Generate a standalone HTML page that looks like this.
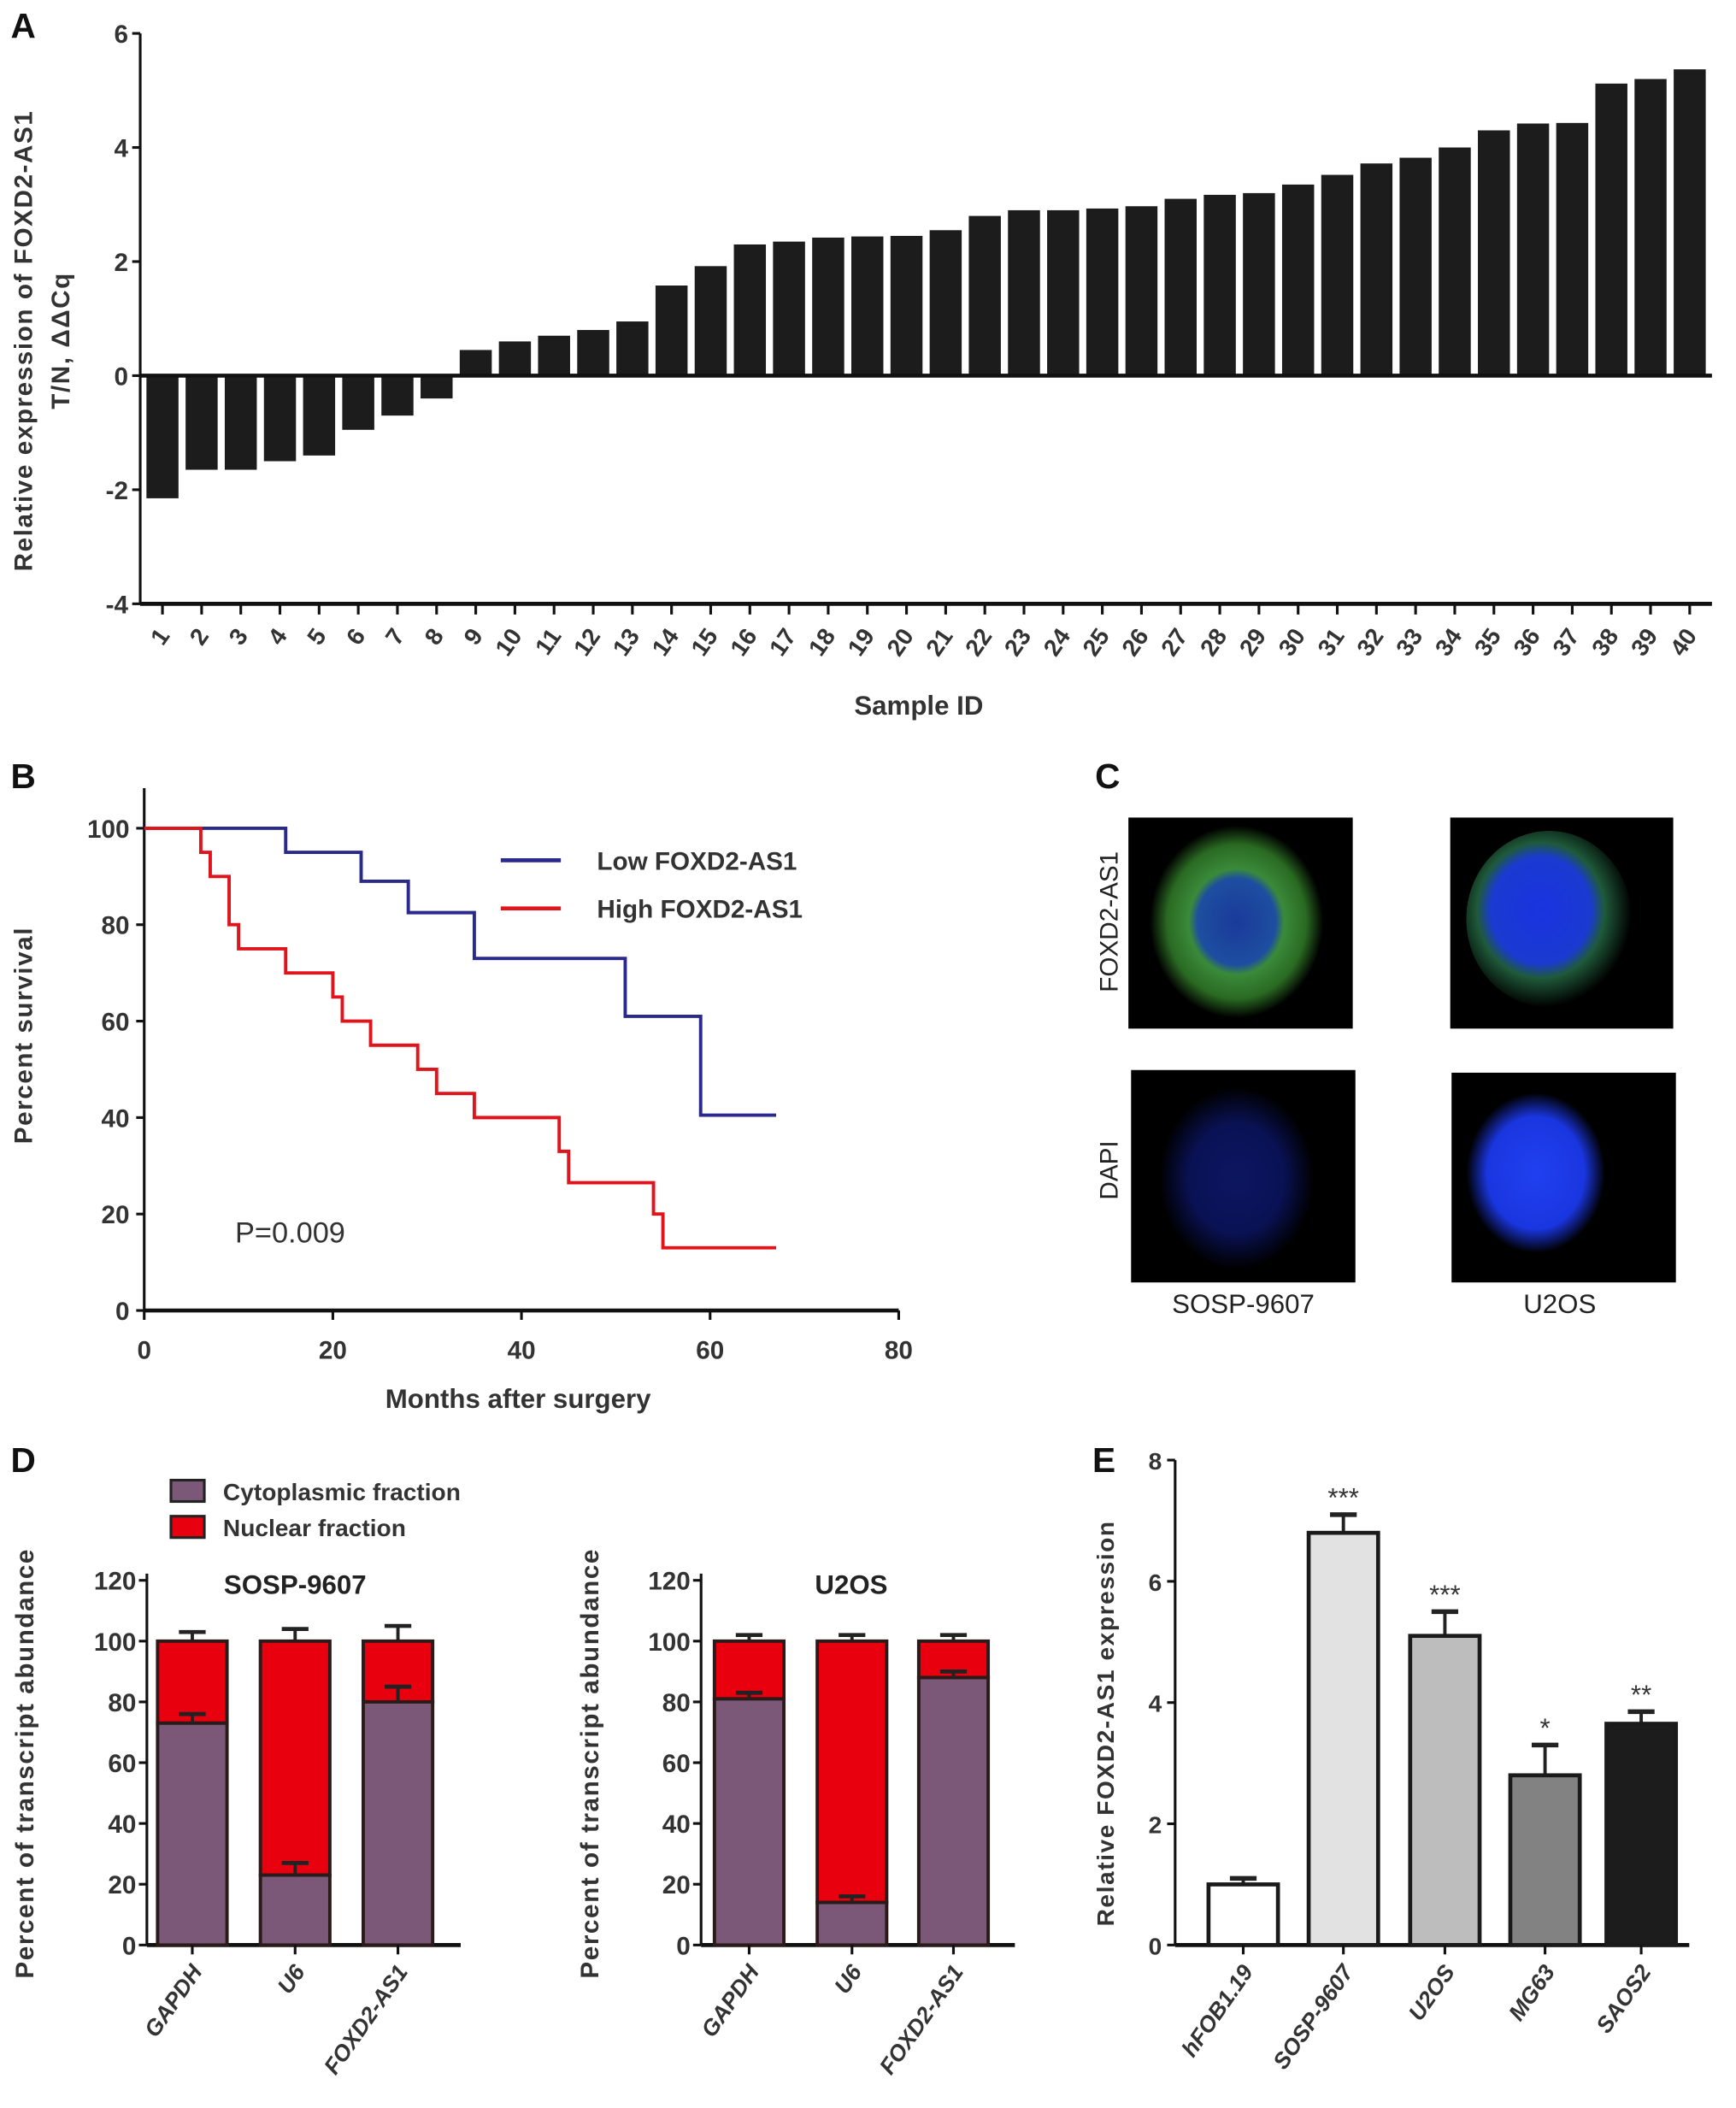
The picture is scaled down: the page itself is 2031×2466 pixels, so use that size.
<!DOCTYPE html>
<html><head><meta charset="utf-8"><style>
html,body{margin:0;padding:0;background:#fff}
svg{display:block;font-family:"Liberation Sans",Arial,sans-serif}
</style></head><body>
<svg id="fig" width="2031" height="2466" viewBox="0 0 1300 1578" preserveAspectRatio="none" xmlns="http://www.w3.org/2000/svg">
<g id="pA"></g>
<g id="pB"></g>
<g id="pC">
 <text x="820" y="590" font-size="26" font-weight="bold" fill="#111">C</text>
 <defs>
  <radialGradient id="g1" cx="50%" cy="50%" r="50%"><stop offset="0" stop-color="#1a3a9a"/><stop offset="0.45" stop-color="#1d4ea0"/><stop offset="0.55" stop-color="#3a8a3a"/><stop offset="0.8" stop-color="#2a6a22"/><stop offset="1" stop-color="#000"/></radialGradient>
  <radialGradient id="g2" cx="45%" cy="45%" r="55%"><stop offset="0" stop-color="#1a33e0"/><stop offset="0.55" stop-color="#1a3ad0"/><stop offset="0.7" stop-color="#1f5a3a"/><stop offset="1" stop-color="#000"/></radialGradient>
  <radialGradient id="g3" cx="50%" cy="50%" r="50%"><stop offset="0" stop-color="#0c1660"/><stop offset="0.6" stop-color="#0a1255"/><stop offset="1" stop-color="#000"/></radialGradient>
  <radialGradient id="g4" cx="50%" cy="50%" r="50%"><stop offset="0" stop-color="#2040f0"/><stop offset="0.7" stop-color="#1a36e0"/><stop offset="1" stop-color="#000"/></radialGradient>
  <clipPath id="c1"><rect x="845" y="612" width="168" height="158"/></clipPath>
  <clipPath id="c2"><rect x="1086" y="612" width="167" height="158"/></clipPath>
  <clipPath id="c3"><rect x="847" y="801" width="168" height="159"/></clipPath>
  <clipPath id="c4"><rect x="1087" y="803" width="168" height="157"/></clipPath>
 </defs>
 <rect x="845" y="612" width="168" height="158" fill="#000"/>
 <ellipse cx="926" cy="690" rx="65" ry="72" fill="url(#g1)" clip-path="url(#c1)"/>
 <rect x="1086" y="612" width="167" height="158" fill="#000"/>
 <ellipse cx="1160" cy="688" rx="62" ry="66" fill="url(#g2)" clip-path="url(#c2)"/>
 <rect x="847" y="801" width="168" height="159" fill="#000"/>
 <ellipse cx="926" cy="882" rx="58" ry="68" fill="url(#g3)" clip-path="url(#c3)"/>
 <rect x="1087" y="803" width="168" height="157" fill="#000"/>
 <ellipse cx="1150" cy="878" rx="52" ry="60" fill="url(#g4)" clip-path="url(#c4)"/>
 <text transform="translate(837,690) rotate(-90)" text-anchor="middle" font-size="19" fill="#222">FOXD2-AS1</text>
 <text transform="translate(837,876) rotate(-90)" text-anchor="middle" font-size="19" fill="#222">DAPI</text>
 <text x="931" y="983" text-anchor="middle" font-size="20" fill="#222">SOSP-9607</text>
 <text x="1168" y="983" text-anchor="middle" font-size="20" fill="#222">U2OS</text>
</g>
<g id="pD"></g>
<g id="pE"></g>
</svg>
<script>
// ---------- Panel A data ----------
const aSamples = Array.from({length:40},(_,i)=>String(i+1));
const aValues = [-2.15,-1.65,-1.65,-1.5,-1.4,-0.95,-0.7,-0.4,0.45,0.6,0.7,0.8,0.95,1.58,1.92,2.3,2.35,2.42,2.44,2.45,2.55,2.8,2.9,2.9,2.93,2.97,3.1,3.17,3.2,3.35,3.52,3.72,3.82,4.0,4.3,4.42,4.43,5.12,5.2,5.37];
const aTicks = [6,4,2,0,-2,-4];
// ---------- Panel B data ----------
const lowT = [0,15,23,28,35,51,59,67];
const lowS = [100,95,89,82.5,73,61,40.5,40.5];
const highT = [0,6,7,9,10,15,20,21,24,29,31,35,44,45,54,55,67];
const highS = [100,95,90,80,75,70,65,60,55,50,45,40,33,26.5,20,13,13];
const bXTicks = [0,20,40,60,80];
const bYTicks = [0,20,40,60,80,100];
// ---------- Panel D data ----------
const dGenes = ["GAPDH","U6","FOXD2-AS1"];
const dSospCyto = [73,23,80];
const dSospCytoErr = [3,4,5];
const dSospTotalErr = [3,4,5];
const dU2osCyto = [81,14,88];
const dU2osCytoErr = [2,2,2];
const dU2osTotalErr = [2,2,2];
const dTicks = [0,20,40,60,80,100,120];
// ---------- Panel E data ----------
const eLines = ["hFOB1.19","SOSP-9607","U2OS","MG63","SAOS2"];
const eValues = [1.0,6.8,5.1,2.8,3.65];
const eErr = [0.1,0.3,0.4,0.5,0.2];
const eStars = ["","***","***","*","**"];
const eTicks = [0,2,4,6,8];

const NS="http://www.w3.org/2000/svg";
function mk(parent,tag,attrs,text){const e=document.createElementNS(NS,tag);for(const k in attrs)e.setAttribute(k,attrs[k]);if(text!==undefined)e.textContent=text;parent.appendChild(e);return e;}

// ===== Panel A =====
(function(){
 const g=document.getElementById('pA');
 const x0=105,x1=1282,yTop=25,yBot=452,vMin=-4,vMax=6;
 const y=v=>yTop+(vMax-v)*(yBot-yTop)/(vMax-vMin);
 const step=(1280-107)/40;
 const cx=i=>107+step*(i+0.5);
 let t=mk(g,'text',{x:8,y:28,'font-size':26,'font-weight':'bold',fill:'#111'},'A');
 
 
 let ax=mk(g,'line',{x1:x0,y1:yTop,x2:x0,y2:yBot,stroke:'#111','stroke-width':2});
 
 
 aTicks.forEach(v=>{
  mk(g,'line',{x1:x0-6,y1:y(v),x2:x0,y2:y(v),stroke:'#111','stroke-width':2});
  const tl=mk(g,'text',{x:x0-9,y:y(v)+7,'text-anchor':'end','font-size':19,'font-weight':'bold',fill:'#333'},String(v));
  
  
 });
 let bl=mk(g,'line',{x1:x0,y1:yBot,x2:x1,y2:yBot,stroke:'#111','stroke-width':3});
 
 
 aValues.forEach((v,i)=>{
  const top=Math.min(y(v),y(0)),h=Math.abs(y(v)-y(0));
  const r=mk(g,'rect',{x:cx(i)-12,y:top,width:24,height:h,fill:'#1c1c1c'});
  
  
  mk(g,'line',{x1:cx(i),y1:yBot,x2:cx(i),y2:yBot+8,stroke:'#111','stroke-width':2});
  const tl=mk(g,'text',{transform:`translate(${cx(i)+6},${yBot+24}) rotate(-55)`,'text-anchor':'end','font-size':18,'font-weight':'bold',fill:'#333'},aSamples[i]);
  
  
 });
 let z=mk(g,'line',{x1:x0,y1:y(0),x2:x1,y2:y(0),stroke:'#111','stroke-width':3});
 
 
 let xt=mk(g,'text',{x:688,y:535,'text-anchor':'middle','font-size':20,'font-weight':'bold',fill:'#333'},'Sample ID');
 
 
 let yt=mk(g,'text',{transform:'translate(24,255) rotate(-90)','text-anchor':'middle','font-size':19,'font-weight':'bold',fill:'#333','letter-spacing':'1'},'Relative expression of FOXD2-AS1');
 
 
 let yt2=mk(g,'text',{transform:'translate(52,255) rotate(-90)','text-anchor':'middle','font-size':19,'font-weight':'bold',fill:'#333','letter-spacing':'1'},'T/N, ΔΔCq');
 
 
})();

// ===== Panel B =====
(function(){
 const g=document.getElementById('pB');
 const x=t=>108+t*(673-108)/80, y=s=>981-s*(981-620)/100;
 let t=mk(g,'text',{x:8,y:590,'font-size':26,'font-weight':'bold',fill:'#111'},'B');
 
 
 let ya=mk(g,'line',{x1:108,y1:590,x2:108,y2:981,stroke:'#111','stroke-width':2});
 
 
 let xa=mk(g,'line',{x1:108,y1:981,x2:673,y2:981,stroke:'#111','stroke-width':3});
 
 
 bYTicks.forEach(v=>{mk(g,'line',{x1:102,y1:y(v),x2:108,y2:y(v),stroke:'#111','stroke-width':2});
  const tl=mk(g,'text',{x:97,y:y(v)+7,'text-anchor':'end','font-size':19,'font-weight':'bold',fill:'#333'},String(v));
  
  });
 bXTicks.forEach(v=>{mk(g,'line',{x1:x(v),y1:981,x2:x(v),y2:988,stroke:'#111','stroke-width':2});
  const tl=mk(g,'text',{x:x(v),y:1017,'text-anchor':'middle','font-size':19,'font-weight':'bold',fill:'#333'},String(v));
  
  });
 function step(T,S){let d=`M${x(T[0])},${y(S[0])}`;for(let i=1;i<T.length;i++){d+=` H${x(T[i])} V${y(S[i])}`;}return d;}
 let lo=mk(g,'path',{d:step(lowT,lowS),fill:'none',stroke:'#2a2a8c','stroke-width':2.5});
 
 
 let hi=mk(g,'path',{d:step(highT,highS),fill:'none',stroke:'#e0141c','stroke-width':2.5});
 
 
 mk(g,'line',{x1:375,y1:644,x2:420,y2:644,stroke:'#2a2a8c','stroke-width':3});
 let l1=mk(g,'text',{x:447,y:651,'font-size':19,'font-weight':'bold',fill:'#333'},'Low FOXD2-AS1');
 
 
 mk(g,'line',{x1:375,y1:680,x2:420,y2:680,stroke:'#e0141c','stroke-width':3});
 let l2=mk(g,'text',{x:447,y:687,'font-size':19,'font-weight':'bold',fill:'#333'},'High FOXD2-AS1');
 
 
 let p=mk(g,'text',{x:176,y:930,'font-size':22,fill:'#333'},'P=0.009');
 
 
 let xt=mk(g,'text',{x:388,y:1054,'text-anchor':'middle','font-size':20,'font-weight':'bold',fill:'#333'},'Months after surgery');
 
 
 let yt=mk(g,'text',{transform:'translate(24,775) rotate(-90)','text-anchor':'middle','font-size':19,'font-weight':'bold',fill:'#333','letter-spacing':'1'},'Percent survival');
 
 
})();

// ===== Panel D =====
(function(){
 const g=document.getElementById('pD');
 let t=mk(g,'text',{x:8,y:1102,'font-size':26,'font-weight':'bold',fill:'#111'},'D');
 
 
 const s1=mk(g,'rect',{x:128,y:1108,width:25,height:16,fill:'#7b5878',stroke:'#222','stroke-width':2});
 
 
 let lt1=mk(g,'text',{x:167,y:1123,'font-size':18,'font-weight':'bold',fill:'#333'},'Cytoplasmic fraction');
 
 
 const s2=mk(g,'rect',{x:128,y:1135,width:25,height:16,fill:'#e8000f',stroke:'#222','stroke-width':2});
 
 
 let lt2=mk(g,'text',{x:167,y:1150,'font-size':18,'font-weight':'bold',fill:'#333'},'Nuclear fraction');
 
 
 function chart(ax,xEnd,bx,title,cyto,cErr,tErr,ytx,key){
  const y=v=>1456-v*(1456-1183)/120;
  let a=mk(g,'line',{x1:ax,y1:1178,x2:ax,y2:1456,stroke:'#111','stroke-width':2});
  
  
  mk(g,'line',{x1:ax,y1:1456,x2:xEnd,y2:1456,stroke:'#111','stroke-width':3});
  dTicks.forEach(v=>{mk(g,'line',{x1:ax-6,y1:y(v),x2:ax,y2:y(v),stroke:'#111','stroke-width':2});
   const tl=mk(g,'text',{x:ax-8,y:y(v)+7,'text-anchor':'end','font-size':19,'font-weight':'bold',fill:'#333'},String(v));
   
   });
  let tt=mk(g,'text',{x:(bx[0]+bx[2]+52)/2,y:1193,'text-anchor':'middle','font-size':20,'font-weight':'bold',fill:'#222'},title);
  
  
  dGenes.forEach((gn,i)=>{
   const x0=bx[i],w=52,c=x0+w/2;
   mk(g,'line',{x1:c,y1:y(100),x2:c,y2:y(100+tErr[i]),stroke:'#222','stroke-width':2.5});
   mk(g,'line',{x1:c-10,y1:y(100+tErr[i]),x2:c+10,y2:y(100+tErr[i]),stroke:'#222','stroke-width':3});
   const n=mk(g,'rect',{x:x0,y:y(100),width:w,height:y(cyto[i])-y(100),fill:'#e8000f',stroke:'#2a1a1a','stroke-width':2.5});
   
   
   const cr=mk(g,'rect',{x:x0,y:y(cyto[i]),width:w,height:y(0)-y(cyto[i]),fill:'#7b5878',stroke:'#2a1a1a','stroke-width':2.5});
   
   
   mk(g,'line',{x1:c,y1:y(cyto[i]),x2:c,y2:y(cyto[i]+cErr[i]),stroke:'#222','stroke-width':2.5});
   mk(g,'line',{x1:c-10,y1:y(cyto[i]+cErr[i]),x2:c+10,y2:y(cyto[i]+cErr[i]),stroke:'#222','stroke-width':3});
   mk(g,'line',{x1:c,y1:1456,x2:c,y2:1463,stroke:'#111','stroke-width':2});
   const tl=mk(g,'text',{transform:`translate(${c+8},${1476}) rotate(-55)`,'text-anchor':'end','font-size':17,'font-style':'italic','font-weight':'bold',fill:'#333'},gn);
   
   
  });
  const yt=mk(g,'text',{transform:`translate(${ytx},1320) rotate(-90)`,'text-anchor':'middle','font-size':19,'font-weight':'bold',fill:'#333','letter-spacing':'1'},'Percent of transcript abundance');
  
  
 }
 chart(110,345,[118,195,272],'SOSP-9607',dSospCyto,dSospCytoErr,dSospTotalErr,25,'sosp');
 chart(525,760,[535,612,688],'U2OS',dU2osCyto,dU2osCytoErr,dU2osTotalErr,448,'u2os');
})();

// ===== Panel E =====
(function(){
 const g=document.getElementById('pE');
 let t=mk(g,'text',{x:818,y:1102,'font-size':26,'font-weight':'bold',fill:'#111'},'E');
 
 
 const y=v=>1456-v*(1456-1093)/8;
 const bx=[905,980,1056,1131,1203];
 const fills=['#ffffff','#e2e2e2','#bdbdbd','#828282','#1c1c1c'];
 let a=mk(g,'line',{x1:880,y1:1093,x2:880,y2:1456,stroke:'#111','stroke-width':2});
 
 
 mk(g,'line',{x1:880,y1:1456,x2:1265,y2:1456,stroke:'#111','stroke-width':3});
 eTicks.forEach(v=>{mk(g,'line',{x1:874,y1:y(v),x2:880,y2:y(v),stroke:'#111','stroke-width':2});
  const tl=mk(g,'text',{x:870,y:y(v)+7,'text-anchor':'end','font-size':18,'font-weight':'bold',fill:'#333'},String(v));
  
  });
 eLines.forEach((ln,i)=>{
  const x0=bx[i],w=52,c=x0+w/2;
  mk(g,'line',{x1:c,y1:y(eValues[i]),x2:c,y2:y(eValues[i]+eErr[i]),stroke:'#222','stroke-width':2.5});
  mk(g,'line',{x1:c-10,y1:y(eValues[i]+eErr[i]),x2:c+10,y2:y(eValues[i]+eErr[i]),stroke:'#222','stroke-width':3.5});
  const r=mk(g,'rect',{x:x0,y:y(eValues[i]),width:w,height:y(0)-y(eValues[i]),fill:fills[i],stroke:'#1a1a1a','stroke-width':3});
  
  
  if(eStars[i]){const s=mk(g,'text',{x:c,y:y(eValues[i]+eErr[i])-6,'text-anchor':'middle','font-size':20,fill:'#333'},eStars[i]);
   
   }
  mk(g,'line',{x1:c,y1:1456,x2:c,y2:1463,stroke:'#111','stroke-width':2});
  const tl=mk(g,'text',{transform:`translate(${c+8},${1476}) rotate(-55)`,'text-anchor':'end','font-size':17,'font-style':'italic','font-weight':'bold',fill:'#333'},ln);
  
  
 });
 const yt=mk(g,'text',{transform:'translate(834,1290) rotate(-90)','text-anchor':'middle','font-size':18,'font-weight':'bold',fill:'#333','letter-spacing':'1'},'Relative FOXD2-AS1 expression');
 
 
})();
</script>
</body></html>
